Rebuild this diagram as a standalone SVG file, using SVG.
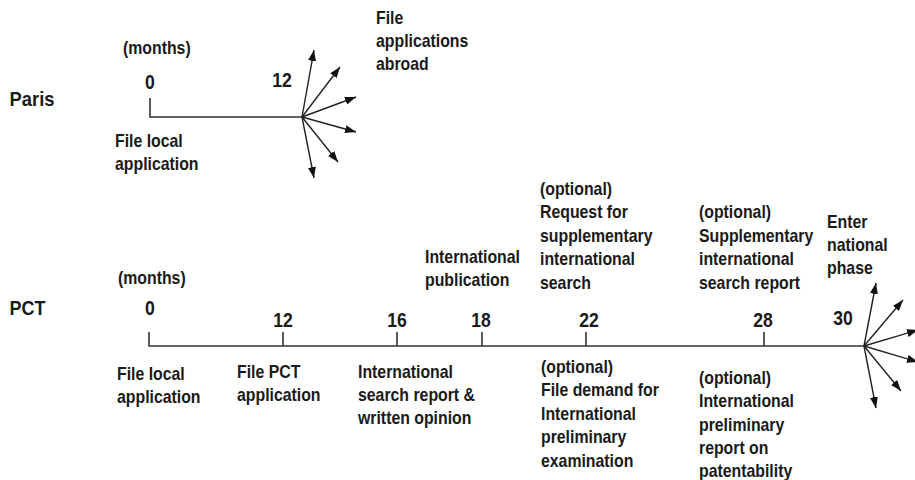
<svg xmlns="http://www.w3.org/2000/svg" width="915" height="480" viewBox="0 0 915 480">
<style>
text{font-family:"Liberation Sans",Arial,sans-serif;font-weight:bold;fill:#1a1a1a}
.t{font-size:18px}
.n{font-size:20px;text-anchor:middle}
.h{font-size:20px}
.ln{stroke:#333;stroke-width:1.6;fill:none}
.ar{stroke:#222;stroke-width:1.4;fill:none;marker-end:url(#ah)}
</style>
<defs>
<marker id="ah" markerUnits="userSpaceOnUse" markerWidth="11" markerHeight="8" refX="11" refY="4" orient="auto">
<path d="M0,0 L11,4 L0,8 z" fill="#111"/>
</marker>
</defs>
<rect width="915" height="480" fill="#fff"/>
<g id="connectors">
<path class="ln" d="M150,98 V117 H302"/>
<path class="ar" d="M302,117 L314,50"/>
<path class="ar" d="M302,117 L340,67"/>
<path class="ar" d="M302,117 L356,97"/>
<path class="ar" d="M302,117 L356,132"/>
<path class="ar" d="M302,117 L338,162"/>
<path class="ar" d="M302,117 L314,178"/>
<path class="ln" d="M149,332 V346 H864"/>
<path class="ln" d="M283,332 V346 M397,332 V346 M482,332 V346 M586,332 V346 M764,332 V346"/>
<path class="ar" d="M864,346 L876,283"/>
<path class="ar" d="M864,346 L903,300"/>
<path class="ar" d="M864,346 L918,330"/>
<path class="ar" d="M864,346 L918,362"/>
<path class="ar" d="M864,346 L901,391"/>
<path class="ar" d="M864,346 L876,408"/>
</g>
<g id="paris-label"><text class="h" transform="translate(9.5 0) scale(.92 1)" x="0" y="106">Paris</text></g>
<g id="paris-months"><text class="t" transform="translate(123 0) scale(.88 1)" x="0" y="54">(months)</text></g>
<g id="paris-0"><text class="n" transform="translate(150 0) scale(.88 1)" x="0" y="89">0</text></g>
<g id="paris-12"><text class="n" transform="translate(282 0) scale(.88 1)" x="0" y="87">12</text></g>
<g id="paris-local"><text class="t" transform="translate(115 0) scale(.88 1)"><tspan x="0" y="147">File local</tspan><tspan x="0" y="170">application</tspan></text></g>
<g id="paris-abroad"><text class="t" transform="translate(376 0) scale(.88 1)"><tspan x="0" y="24">File</tspan><tspan x="0" y="47">applications</tspan><tspan x="0" y="70">abroad</tspan></text></g>

<g id="pct-label"><text class="h" transform="translate(9.5 0) scale(.9 1)" x="0" y="315">PCT</text></g>
<g id="pct-months"><text class="t" transform="translate(118 0) scale(.88 1)" x="0" y="284">(months)</text></g>
<g id="pct-0"><text class="n" transform="translate(150 0) scale(.88 1)" x="0" y="315">0</text></g>
<g id="pct-12"><text class="n" transform="translate(283 0) scale(.88 1)" x="0" y="327">12</text></g>
<g id="pct-16"><text class="n" transform="translate(397 0) scale(.88 1)" x="0" y="327">16</text></g>
<g id="pct-18"><text class="n" transform="translate(481 0) scale(.88 1)" x="0" y="327">18</text></g>
<g id="pct-22"><text class="n" transform="translate(589 0) scale(.88 1)" x="0" y="327">22</text></g>
<g id="pct-28"><text class="n" transform="translate(763 0) scale(.88 1)" x="0" y="327">28</text></g>
<g id="pct-30"><text class="n" transform="translate(843 0) scale(.88 1)" x="0" y="325">30</text></g>
<g id="pct-local"><text class="t" transform="translate(117 0) scale(.88 1)"><tspan x="0" y="380">File local</tspan><tspan x="0" y="403">application</tspan></text></g>
<g id="pct-file"><text class="t" transform="translate(237 0) scale(.88 1)"><tspan x="0" y="378">File PCT</tspan><tspan x="0" y="401">application</tspan></text></g>
<g id="pct-isr"><text class="t" transform="translate(358 0) scale(.88 1)"><tspan x="0" y="378">International</tspan><tspan x="0" y="401">search report &amp;</tspan><tspan x="0" y="424">written opinion</tspan></text></g>
<g id="pct-pub"><text class="t" transform="translate(425 0) scale(.88 1)"><tspan x="0" y="263">International</tspan><tspan x="0" y="286">publication</tspan></text></g>
<g id="pct-ssr-request"><text class="t" transform="translate(540 0) scale(.88 1)"><tspan x="0" y="195">(optional)</tspan><tspan x="0" y="218.5">Request for</tspan><tspan x="0" y="242">supplementary</tspan><tspan x="0" y="265.5">international</tspan><tspan x="0" y="289">search</tspan></text></g>
<g id="pct-ssr-report"><text class="t" transform="translate(699 0) scale(.88 1)"><tspan x="0" y="218.5">(optional)</tspan><tspan x="0" y="242">Supplementary</tspan><tspan x="0" y="265.5">international</tspan><tspan x="0" y="289">search report</tspan></text></g>
<g id="pct-demand"><text class="t" transform="translate(541 0) scale(.88 1)"><tspan x="0" y="373">(optional)</tspan><tspan x="0" y="396.5">File demand for</tspan><tspan x="0" y="420">International</tspan><tspan x="0" y="443.5">preliminary</tspan><tspan x="0" y="467">examination</tspan></text></g>
<g id="pct-iprp"><text class="t" transform="translate(699 0) scale(.88 1)"><tspan x="0" y="384">(optional)</tspan><tspan x="0" y="407.5">International</tspan><tspan x="0" y="431">preliminary</tspan><tspan x="0" y="454.5">report on</tspan><tspan x="0" y="477">patentability</tspan></text></g>
<g id="pct-national"><text class="t" transform="translate(827 0) scale(.88 1)"><tspan x="0" y="228">Enter</tspan><tspan x="0" y="251">national</tspan><tspan x="0" y="274">phase</tspan></text></g>
</svg>
